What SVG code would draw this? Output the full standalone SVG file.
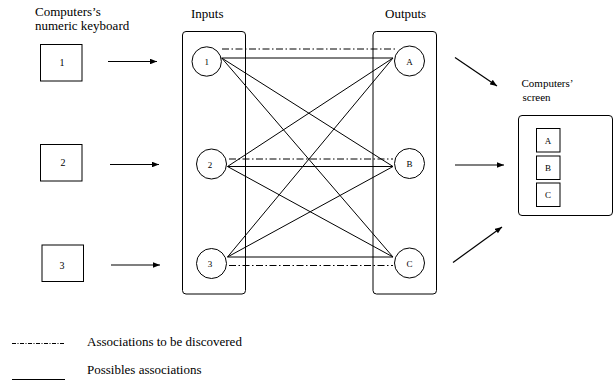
<svg xmlns="http://www.w3.org/2000/svg" width="614" height="383" viewBox="0 0 614 383">
<defs>
<style>
.t{font-family:"Liberation Serif","Times New Roman",serif;fill:#000}
.lbl{font-size:13px}
.sm{font-size:10px}
.xs{font-size:9px}
.box{fill:#fff;stroke:#000;stroke-width:1}
.grp{fill:none;stroke:#000;stroke-width:1}
.ln{stroke:#000;stroke-width:1;fill:none}
.dd{stroke:#000;stroke-width:1;fill:none;stroke-dasharray:7,2.5,1.5,2.5}
.arr{stroke:#000;stroke-width:1.2;fill:none;marker-end:url(#ah)}
</style>
<marker id="ah" viewBox="0 0 10 8" refX="10" refY="4" markerWidth="8" markerHeight="5.6" markerUnits="userSpaceOnUse" orient="auto">
<path d="M0,0 L10,4 L0,8 Z" fill="#000"/>
</marker>
</defs>
<rect width="614" height="383" fill="#fff"/>

<g id="label-keyboard">
<text class="t lbl" x="35" y="16">Computers’s</text>
<text class="t lbl" x="35" y="30">numeric keyboard</text>
</g>
<g id="label-inputs"><text class="t lbl" x="191" y="18">Inputs</text></g>
<g id="label-outputs"><text class="t lbl" x="385" y="18">Outputs</text></g>

<g id="key1"><rect class="box" x="40.5" y="44.5" width="41.5" height="36.5"/><text class="t sm" x="62" y="66" text-anchor="middle">1</text></g>
<g id="key2"><rect class="box" x="40.5" y="144.5" width="41.5" height="36.5"/><text class="t sm" x="63" y="166" text-anchor="middle">2</text></g>
<g id="key3"><rect class="box" x="42" y="245" width="41.5" height="36.5"/><text class="t sm" x="62" y="269" text-anchor="middle">3</text></g>

<g id="inputs"><rect class="grp" x="182.5" y="31.5" width="63" height="262.5" rx="3.5"/></g>
<g id="outputs"><rect class="grp" x="373" y="31.5" width="63.5" height="262.5" rx="3.5"/></g>

<g id="connectors">
<line class="arr" x1="108" y1="61.5" x2="157" y2="61.5"/>
<line class="arr" x1="110" y1="164.5" x2="159" y2="164.5"/>
<line class="arr" x1="111" y1="265" x2="160" y2="265"/>
<line class="arr" x1="455" y1="57.5" x2="497" y2="86"/>
<line class="arr" x1="455" y1="165" x2="504" y2="165"/>
<line class="arr" x1="453" y1="262.5" x2="502" y2="227"/>
<line class="dd" x1="222" y1="49" x2="395" y2="49"/>
<line class="dd" x1="229" y1="159" x2="393" y2="159"/>
<line class="dd" x1="229" y1="265.5" x2="393" y2="265.5"/>
<line class="ln" x1="221.7" y1="58" x2="393" y2="58"/>
<line class="ln" x1="221.7" y1="58" x2="393" y2="166.5"/>
<line class="ln" x1="221.7" y1="58" x2="393" y2="257"/>
<line class="ln" x1="227.5" y1="166.5" x2="393" y2="58"/>
<line class="ln" x1="227.5" y1="166.5" x2="393" y2="166.5"/>
<line class="ln" x1="227.5" y1="166.5" x2="393" y2="257"/>
<line class="ln" x1="227.5" y1="257" x2="393" y2="58"/>
<line class="ln" x1="227.5" y1="257" x2="393" y2="166.5"/>
<line class="ln" x1="227.5" y1="257" x2="393" y2="257"/>
</g>

<g id="in1"><circle class="box" cx="206.7" cy="61.5" r="14.7"/><text class="t xs" x="206.7" y="65" text-anchor="middle">1</text></g>
<g id="in2"><circle class="box" cx="211.5" cy="164" r="15"/><text class="t xs" x="210" y="167.5" text-anchor="middle">2</text></g>
<g id="in3"><circle class="box" cx="211.5" cy="263.5" r="15"/><text class="t xs" x="210" y="267" text-anchor="middle">3</text></g>
<g id="outA"><circle class="box" cx="409.5" cy="61" r="15"/><text class="t xs" x="409.5" y="64.5" text-anchor="middle">A</text></g>
<g id="outB"><circle class="box" cx="409.5" cy="163.5" r="15"/><text class="t xs" x="409.5" y="167" text-anchor="middle">B</text></g>
<g id="outC"><circle class="box" cx="409.5" cy="263" r="15"/><text class="t xs" x="409.5" y="266.5" text-anchor="middle">C</text></g>

<g id="label-screen">
<text class="t" font-size="11" x="521.5" y="87">Computers’</text>
<text class="t" font-size="11" x="522.5" y="101">screen</text>
</g>
<g id="screen">
<rect class="grp" x="518.5" y="115.5" width="94" height="100" rx="3.5"/>
<rect class="box" x="536.5" y="128.5" width="23.5" height="23.5"/><text class="t xs" x="548" y="143.5" text-anchor="middle">A</text>
<rect class="box" x="536.5" y="156" width="23.5" height="23.5"/><text class="t xs" x="548" y="171" text-anchor="middle">B</text>
<rect class="box" x="536.5" y="183" width="23.5" height="23.5"/><text class="t xs" x="548" y="198" text-anchor="middle">C</text>
</g>

<g id="legend">
<line class="ln" x1="12" y1="343.5" x2="65" y2="343.5" stroke-dasharray="4,1.5,1,1.5"/>
<text class="t lbl" x="87" y="346">Associations to be discovered</text>
<line class="ln" x1="12" y1="379.5" x2="65" y2="379.5"/>
<text class="t lbl" x="87" y="374">Possibles associations</text>
</g>
</svg>
